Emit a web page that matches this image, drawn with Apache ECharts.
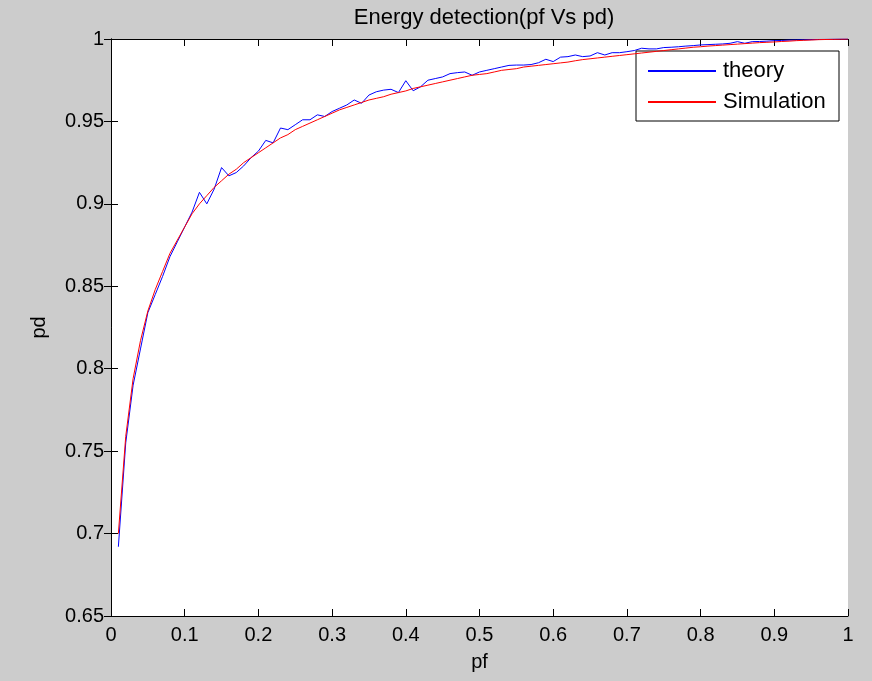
<!DOCTYPE html>
<html>
<head>
<meta charset="utf-8">
<script src="https://cdn.jsdelivr.net/npm/echarts@6/dist/echarts.min.js"></script>
<style>
html,body{margin:0;padding:0;background:#cccccc;}
#c{width:872px;height:681px;}
</style>
</head>
<body>
<div id="c"></div>
<script>
const pf = [];
for (let i = 1; i <= 100; i++) pf.push(+(i / 100).toFixed(2));

const theory = [
0.692,0.755,0.790,0.812,0.834,0.845,0.856,0.868,0.877,0.886,
0.895,0.907,0.900,0.909,0.922,0.917,0.919,0.923,0.928,0.932,
0.9385,0.937,0.946,0.945,0.948,0.951,0.951,0.954,0.953,0.956,
0.958,0.960,0.963,0.961,0.966,0.968,0.969,0.9695,0.9675,0.9747,
0.9686,0.971,0.975,0.976,0.977,0.979,0.9796,0.980,0.978,0.980,
0.981,0.982,0.983,0.984,0.9842,0.9842,0.9845,0.9856,0.9877,0.9863,
0.989,0.9893,0.9903,0.9893,0.9897,0.9917,0.9903,0.9917,0.9917,0.9923,
0.993,0.9944,0.994,0.994,0.9948,0.995,0.9953,0.9957,0.996,0.9964,
0.9966,0.9968,0.997,0.9974,0.9984,0.9974,0.9984,0.9985,0.9987,0.999,
0.9991,0.9993,0.9994,0.9995,0.9996,0.9997,0.9998,0.9999,1.0,1.0
];

const simulation = [
0.700,0.759,0.794,0.817,0.835,0.848,0.859,0.870,0.878,0.886,
0.894,0.900,0.905,0.910,0.914,0.918,0.921,0.925,0.928,0.931,
0.934,0.937,0.940,0.942,0.945,0.947,0.949,0.951,0.953,0.955,
0.957,0.9585,0.960,0.9615,0.963,0.964,0.965,0.9665,0.9675,0.9685,
0.970,0.971,0.972,0.973,0.974,0.975,0.976,0.977,0.978,0.9785,
0.979,0.980,0.981,0.9815,0.982,0.983,0.9835,0.984,0.9845,0.985,
0.9855,0.986,0.9868,0.9875,0.988,0.9885,0.989,0.9895,0.990,0.9905,
0.991,0.9915,0.992,0.9925,0.993,0.9935,0.994,0.9945,0.995,0.9953,
0.9957,0.996,0.9963,0.9966,0.9969,0.9972,0.9975,0.9978,0.998,0.9982,
0.9985,0.9987,0.999,0.9992,0.9994,0.9996,0.9997,0.9998,0.9999,1.0
];

const xTicks = [0,0.1,0.2,0.3,0.4,0.5,0.6,0.7,0.8,0.9,1];
const yTicks = [0.65,0.7,0.75,0.8,0.85,0.9,0.95,1];

const font = 'Liberation Sans, Arial, sans-serif';
const chart = echarts.init(document.getElementById('c'));
const axLine = {show:true, lineStyle:{color:'#000', width:1}};
const tick = {show:true, inside:true, length:7, lineStyle:{color:'#000'}};
const fmt = v => String(+(+v).toFixed(2));

chart.setOption({
  backgroundColor:'#cccccc',
  animation:false,
  title:{
    text:'Energy detection(pf Vs pd)',
    left:479, top:2, textAlign:'center',
    textStyle:{fontFamily:font, fontSize:22, fontWeight:'normal', color:'#000'}
  },
  grid:{left:111, right:24, top:39, bottom:65, show:true, backgroundColor:'#fff', borderWidth:0},
  legend:{
    orient:'vertical', left:636, top:51,
    backgroundColor:'#fff', borderColor:'#000', borderWidth:1,
    padding:[9, 12, 8, 12], itemGap:9,
    itemWidth:68, itemHeight:2, icon:'rect',
    textStyle:{fontFamily:font, fontSize:22, color:'#000', lineHeight:22, width:104, padding:[0,0,0,2]},
    data:['theory','Simulation']
  },
  xAxis:[{
    type:'value', min:0, max:1, interval:0.1, position:'bottom',
    name:'pf', nameLocation:'middle', nameGap:36,
    nameTextStyle:{fontFamily:font, fontSize:20, color:'#000'},
    axisLine:axLine, axisTick:tick, splitLine:{show:false},
    axisLabel:{fontFamily:font, fontSize:20, color:'#000', margin:9, formatter:fmt}
  },{
    type:'value', min:0, max:1, interval:0.1, position:'top',
    axisLine:axLine, axisTick:tick, splitLine:{show:false}, axisLabel:{show:false}
  }],
  yAxis:[{
    type:'value', min:0.65, max:1, interval:0.05, position:'left',
    name:'pd', nameLocation:'middle', nameGap:62,
    nameTextStyle:{fontFamily:font, fontSize:20, color:'#000'},
    axisLine:axLine, axisTick:tick, splitLine:{show:false},
    axisLabel:{fontFamily:font, fontSize:20, color:'#000', margin:7, formatter:fmt}
  },{
    type:'value', min:0.65, max:1, interval:0.05, position:'right',
    axisLine:axLine, axisTick:tick, splitLine:{show:false}, axisLabel:{show:false}
  }],
  series:[{
    name:'theory', type:'line', showSymbol:false, symbol:'none',
    data: pf.map((x,i)=>[x, theory[i]]),
    lineStyle:{color:'#0000ff', width:1}, itemStyle:{color:'#0000ff'}, z:3
  },{
    name:'Simulation', type:'line', showSymbol:false, symbol:'none',
    data: pf.map((x,i)=>[x, simulation[i]]),
    lineStyle:{color:'#ff0000', width:1}, itemStyle:{color:'#ff0000'}, z:4
  }]
});
</script>
</body>
</html>
